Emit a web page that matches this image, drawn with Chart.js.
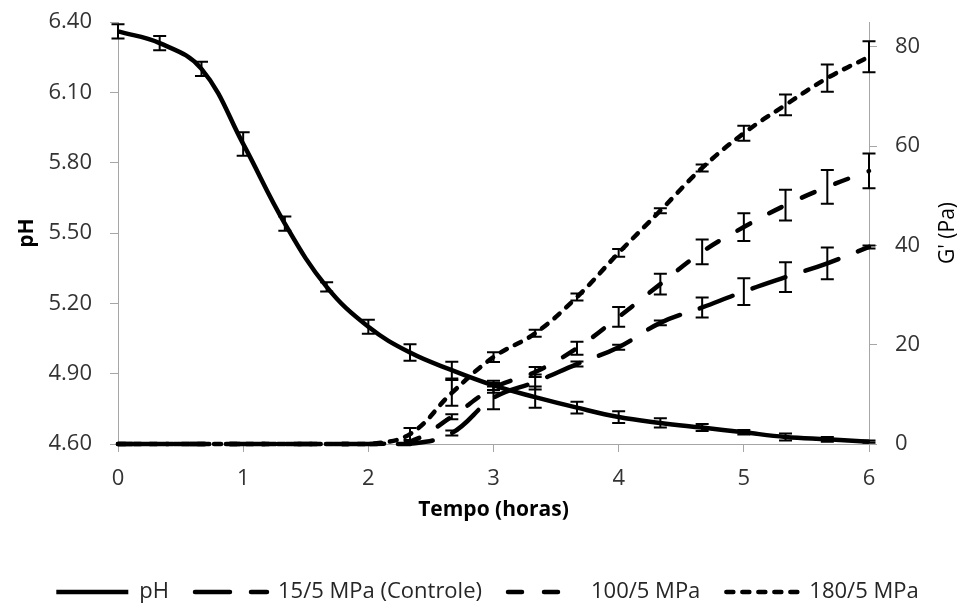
<!DOCTYPE html>
<html>
<head>
<meta charset="utf-8">
<script src="https://cdn.jsdelivr.net/npm/chart.js@4/dist/chart.umd.min.js"></script>
<style>
  html, body { margin: 0; padding: 0; background: #fff; }
  #chart { display: block; }
</style>
</head>
<body>
<canvas id="chart" width="961" height="603"></canvas>
<script>
// time in hours (one point every 20 min)
const horas = [0, 0.333, 0.667, 1, 1.333, 1.667, 2, 2.333, 2.667, 3, 3.333, 3.667, 4, 4.333, 4.667, 5, 5.333, 5.667, 6];

const ph = [6.36, 6.31, 6.20, 5.88, 5.54, 5.27, 5.10, 4.99, 4.915, 4.85, 4.80, 4.755, 4.715, 4.69, 4.67, 4.65, 4.63, 4.62, 4.61];
const phErr = [0.03, 0.03, 0.03, 0.05, 0.03, 0.02, 0.03, 0.035, 0.036, 0.02, 0.045, 0.025, 0.025, 0.02, 0.015, 0.01, 0.015, 0.01, 0.005];

const g15 = [0, 0, 0, 0, 0, 0, 0, 0, 2.2, 9.3, 12.5, 16.1, 19.5, 24.4, 27.5, 30.7, 33.6, 36.4, 39.7];
const g15Err = [0, 0, 0, 0, 0, 0, 0, 0, 0.5, 2.3, 1.5, 0.5, 0.5, 0.5, 2.0, 2.7, 3.0, 3.2, 0.3];

const g100 = [0, 0, 0, 0, 0, 0, 0, 0.5, 5.5, 11.3, 14.5, 19.3, 25.6, 32.2, 38.7, 43.7, 48.1, 51.8, 55];
const g100Err = [0, 0, 0, 0, 0, 0, 0, 0, 0.5, 1.0, 1.0, 1.3, 2.0, 2.1, 2.5, 2.8, 3.1, 3.4, 3.5];

const g180 = [0, 0, 0, 0, 0, 0, 0, 2.0, 10.3, 17.5, 22.3, 29.6, 38.5, 47, 55.6, 62.6, 68.3, 73.7, 78];
const g180Err = [0, 0, 0, 0, 0, 0, 0, 1.2, 2.6, 1.0, 0.7, 0.7, 0.8, 0.5, 0.7, 1.5, 2.1, 2.75, 3.1];

const xTicks = [0, 1, 2, 3, 4, 5, 6];
const phTicks = [4.6, 4.9, 5.2, 5.5, 5.8, 6.1, 6.4];
const gTicks = [0, 20, 40, 60, 80];

Chart.defaults.font.family = "'Open Sans', sans-serif";

function pts(values) {
  return values.map((v, i) => ({ x: horas[i], y: v }));
}

function serie(label, values, errs, axis, dash) {
  return {
    label: label,
    data: pts(values),
    errors: errs,
    yAxisID: axis,
    borderColor: "#000",
    backgroundColor: "#000",
    borderWidth: 4.5,
    borderDash: dash,
    borderCapStyle: dash.length ? "round" : "butt",
    pointRadius: 0,
    tension: 0.4,
    clip: false,
  };
}

// vertical error bars with caps
const errorBars = {
  id: "errorBars",
  afterDatasetsDraw(chart) {
    const ctx = chart.ctx;
    ctx.save();
    ctx.strokeStyle = "#000";
    ctx.lineWidth = 2;
    chart.data.datasets.forEach((ds, d) => {
      const meta = chart.getDatasetMeta(d);
      const ys = chart.scales[ds.yAxisID];
      meta.data.forEach((p, i) => {
        const e = ds.errors[i];
        if (!e) return;
        const v = ds.data[i].y;
        const top = ys.getPixelForValue(v + e);
        const bot = ys.getPixelForValue(v - e);
        ctx.beginPath();
        ctx.moveTo(p.x, top);
        ctx.lineTo(p.x, bot);
        ctx.moveTo(p.x - 6.5, top);
        ctx.lineTo(p.x + 6.5, top);
        ctx.moveTo(p.x - 6.5, bot);
        ctx.lineTo(p.x + 6.5, bot);
        ctx.stroke();
      });
    });
    ctx.restore();
  },
};

// right title reads bottom-to-top like the left one
const rightTitle = {
  id: "rightTitle",
  afterDraw(chart) {
    const ctx = chart.ctx;
    ctx.save();
    ctx.translate(948, (chart.chartArea.top + chart.chartArea.bottom) / 2);
    ctx.rotate(-Math.PI / 2);
    ctx.font = "21px 'Open Sans'";
    ctx.fillStyle = "#000";
    ctx.textAlign = "center";
    ctx.textBaseline = "middle";
    ctx.fillText("G' (Pa)", 0, 0);
    ctx.restore();
  },
};

const axisColor = "#a6a6a6";

// fixed box size, and no extra room asked for the end labels
function fixWidth(w) {
  return (s) => {
    s.width = w;
    s.paddingTop = 0;
    s.paddingBottom = 0;
  };
}

new Chart(document.getElementById("chart"), {
  type: "line",
  data: {
    datasets: [
      serie("pH", ph, phErr, "yPh", []),
      serie("15/5 MPa (Controle)", g15, g15Err, "yG", [35, 21]),
      serie("100/5 MPa", g100, g100Err, "yG", [14, 22]),
      serie("180/5 MPa", g180, g180Err, "yG", [7, 9]),
    ],
  },
  options: {
    responsive: false,
    animation: false,
    layout: { padding: { top: 22, bottom: -10, left: 14, right: 0 } },
    plugins: {
      tooltip: { enabled: false },
      legend: {
        position: "bottom",
        labels: {
          usePointStyle: true,
          pointStyleWidth: 72,
          padding: 26,
          color: "#262626",
          font: { size: 22 },
          generateLabels: (chart) =>
            chart.data.datasets.map((ds, i) => ({
              text: ds.label,
              datasetIndex: i,
              fillStyle: "#000",
              strokeStyle: "#000",
              fontColor: "#262626",
              lineWidth: ds.borderWidth,
              lineDash: ds.borderDash,
              lineCap: ds.borderCapStyle,
              pointStyle: "line",
              hidden: false,
            })),
        },
      },
    },
    scales: {
      x: {
        type: "linear",
        min: 0,
        max: 6,
        afterBuildTicks: (s) => { s.ticks = xTicks.map((v) => ({ value: v })); },
        afterFit: (s) => { s.height = 111; },
        ticks: { color: "#333", font: { size: 22 }, padding: 14 },
        grid: { drawOnChartArea: false, tickLength: 8, color: axisColor },
        border: { color: axisColor },
        title: {
          display: true,
          text: "Tempo (horas)",
          color: "#000",
          font: { size: 21, weight: "bold" },
          padding: { top: 0, bottom: 32 },
        },
      },
      yPh: {
        position: "left",
        min: 4.6,
        max: 6.4,
        afterBuildTicks: (s) => { s.ticks = phTicks.map((v) => ({ value: v })); },
        afterFit: fixWidth(104),
        ticks: {
          color: "#333",
          font: { size: 22 },
          padding: 18,
          callback: (v) => v.toFixed(2),
        },
        grid: { drawOnChartArea: false, tickLength: 8, color: axisColor },
        border: { color: axisColor },
        title: {
          display: true,
          text: "pH",
          color: "#000",
          font: { size: 21, weight: "bold" },
          padding: { top: 0, bottom: 0 },
        },
      },
      yG: {
        position: "right",
        min: 0,
        max: 85,
        afterBuildTicks: (s) => { s.ticks = gTicks.map((v) => ({ value: v })); },
        afterFit: fixWidth(92),
        ticks: { color: "#333", font: { size: 22 }, padding: 18 },
        grid: { drawOnChartArea: false, tickLength: 8, color: axisColor },
        border: { color: axisColor },
      },
    },
  },
  plugins: [errorBars, rightTitle],
});
</script>
</body>
</html>
